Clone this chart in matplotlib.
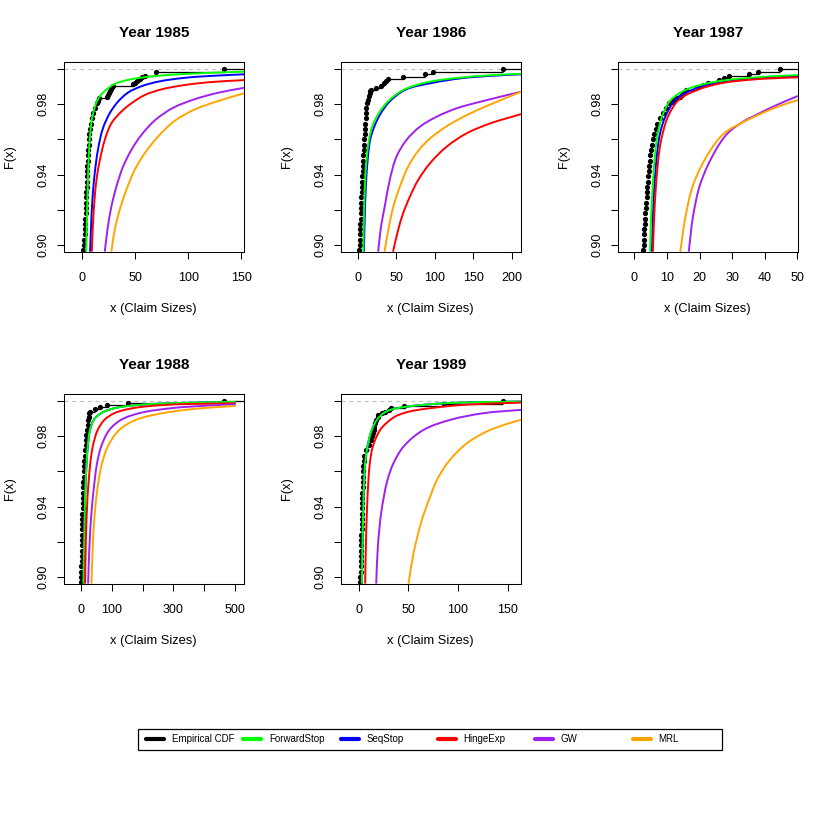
import matplotlib
matplotlib.use("Agg")
import numpy as np
import matplotlib.pyplot as plt
from matplotlib.lines import Line2D
from matplotlib.patches import Rectangle, PathPatch
from matplotlib.path import Path

plt.rcParams['font.family'] = ['Liberation Sans', 'DejaVu Sans']

# ---------------- data ----------------
years = [1985, 1986, 1987, 1988, 1989]
series_names = ["Empirical CDF", "ForwardStop", "SeqStop", "HingeExp", "GW", "MRL"]
series_colors = ["black", "#00FF00", "#0000FF", "#FF0000", "#A020F0", "#FFA500"]

y_ticks = [0.90, 0.92, 0.94, 0.96, 0.98, 1.00]
y_tick_labels = ["0.90", "", "0.94", "", "0.98", ""]
y_limits = (0.896, 1.004)

x_ticks_1985 = [0, 50, 100, 150]
x_ticks_1986 = [0, 50, 100, 150, 200]
x_ticks_1987 = [0, 10, 20, 30, 40, 50]
x_ticks_1988 = [0, 100, 200, 300, 400, 500]
x_ticks_1989 = [0, 50, 100, 150]
x_tick_labels_1985 = ["0", "50", "100", "150"]
x_tick_labels_1986 = ["0", "50", "100", "150", "200"]
x_tick_labels_1987 = ["0", "10", "20", "30", "40", "50"]
x_tick_labels_1988 = ["0", "100", "", "300", "", "500"]
x_tick_labels_1989 = ["0", "50", "100", "150"]
x_limits_1985 = (-17.2, 152.5)
x_limits_1986 = (-22.6, 211.7)
x_limits_1987 = (-5.15, 50.2)
x_limits_1988 = (-57.2, 529.0)
x_limits_1989 = (-18.1, 163.4)

# empirical CDF jump points
ecdf_x_1985 = [1.6, 2.2, 2.4, 2.6, 2.8, 3.1, 3.3, 3.5, 3.7, 3.9, 4.1, 4.3, 4.55, 4.75, 4.95,
               5.15, 5.35, 5.65, 5.95, 6.25, 6.55, 6.85, 7.15, 7.6, 8.2, 9.2, 10.8, 12.7,
               14.0, 15.3, 16.6, 23.4, 24.5, 25.5, 26.5, 27.5, 28.5, 29.7,
               48.4, 50.0, 51.5, 53.0, 55.0, 57.0, 59.4, 69.4, 134.0]
ecdf_F_1985 = [0.897, 0.900, 0.903, 0.906, 0.909, 0.912, 0.915, 0.918, 0.921, 0.924, 0.927,
               0.930, 0.933, 0.936, 0.939, 0.942, 0.945, 0.948, 0.951, 0.954, 0.957, 0.960,
               0.963, 0.966, 0.969, 0.972, 0.975, 0.978, 0.9805, 0.982, 0.9833, 0.9843,
               0.9854, 0.9866, 0.9877, 0.9888, 0.9898, 0.9905, 0.9915, 0.9922, 0.9930,
               0.9937, 0.9945, 0.9952, 0.9958, 0.9985, 1.0]
ecdf_x_1986 = [1.2, 2.2, 2.4, 2.6, 2.9, 3.1, 3.4, 3.7, 4.0, 4.3, 4.6, 4.85, 5.05, 5.3, 5.65,
               6.0, 6.35, 6.7, 7.05, 7.4, 7.8, 8.2, 8.65, 9.05, 9.45, 9.9, 10.3, 10.9,
               11.7, 13.0, 14.2, 15.2, 16.0, 16.5, 24.0, 30.4, 33.9, 36.5, 39.1, 58.7,
               87.0, 97.8, 188.0]
ecdf_F_1986 = [0.897, 0.900, 0.903, 0.906, 0.909, 0.912, 0.915, 0.918, 0.921, 0.924, 0.927,
               0.930, 0.933, 0.936, 0.939, 0.942, 0.945, 0.948, 0.951, 0.954, 0.957, 0.960,
               0.963, 0.966, 0.969, 0.972, 0.975, 0.978, 0.9805, 0.9824, 0.9845, 0.9862,
               0.9875, 0.9881, 0.989, 0.9905, 0.9919, 0.993, 0.9941, 0.9953, 0.997,
               0.9983, 1.0]
ecdf_x_1987 = [2.6, 2.9, 2.97, 3.05, 3.12, 3.2, 3.27, 3.38, 3.5, 3.62, 3.75, 3.87, 4.0, 4.12,
               4.25, 4.38, 4.52, 4.72, 4.93, 5.15, 5.5, 5.82, 6.17, 6.6, 7.1, 7.95, 8.7, 9.8,
               10.7, 11.5, 12.3, 13.1, 13.9, 14.6, 15.3, 16.0, 19.3, 21.1, 22.6, 26.0,
               27.5, 29.1, 35.3, 37.8, 44.8]
ecdf_F_1987 = [0.897, 0.900, 0.903, 0.906, 0.909, 0.912, 0.915, 0.918, 0.921, 0.924, 0.927,
               0.930, 0.933, 0.936, 0.939, 0.942, 0.945, 0.948, 0.951, 0.954, 0.957, 0.960,
               0.963, 0.966, 0.969, 0.972, 0.975, 0.978, 0.9805, 0.9814, 0.9825, 0.9833,
               0.9843, 0.9852, 0.9866, 0.9881, 0.990, 0.9909, 0.9919, 0.9938, 0.9951,
               0.996, 0.9972, 0.9985, 1.0]
ecdf_x_1988 = [0.5, 0.8, 1.0, 1.25, 1.5, 1.75, 2.0, 2.25, 2.55, 2.9, 3.2, 3.55, 3.9, 4.25,
               4.7, 5.2, 5.7, 6.3, 6.9, 7.4, 8.2, 9.0, 9.9, 10.8, 11.8, 13.0, 14.4, 15.8,
               17.0, 19.4, 21.5, 23.8, 25.3, 27.0, 29.0, 45.4, 62.6, 84.0, 151.0, 464.0]
ecdf_F_1988 = [0.897, 0.900, 0.903, 0.906, 0.909, 0.912, 0.915, 0.918, 0.921, 0.924, 0.927,
               0.930, 0.933, 0.936, 0.939, 0.942, 0.945, 0.948, 0.951, 0.954, 0.957, 0.960,
               0.963, 0.966, 0.969, 0.972, 0.975, 0.978, 0.9805, 0.9836, 0.9865, 0.9893,
               0.9912, 0.9931, 0.994, 0.9953, 0.9968, 0.9978, 0.9991, 1.0]
ecdf_x_1989 = [1.7, 1.9, 2.05, 2.2, 2.3, 2.45, 2.6, 2.72, 2.83, 2.94, 3.05, 3.16, 3.27, 3.38,
               3.52, 3.67, 3.82, 3.97, 4.12, 4.3, 4.5, 4.7, 4.9, 5.3, 6.0, 7.5, 10.5, 12.4,
               13.4, 14.4, 15.1, 16.0, 16.9, 17.8, 19.2, 20.1, 23.5, 27.0, 30.2, 32.6,
               45.3, 85.6, 145.3]
ecdf_F_1989 = [0.897, 0.900, 0.903, 0.906, 0.909, 0.912, 0.915, 0.918, 0.921, 0.924, 0.927,
               0.930, 0.933, 0.936, 0.939, 0.942, 0.945, 0.948, 0.951, 0.954, 0.957, 0.960,
               0.963, 0.966, 0.969, 0.972, 0.975, 0.978, 0.980, 0.982, 0.9836, 0.9855,
               0.9875, 0.9893, 0.991, 0.9921, 0.9931, 0.994, 0.995, 0.9959, 0.9972,
               0.9983, 1.0]

# fitted CDF curves
fs_x_1985 = [4.1, 4.9, 5.7, 6.7, 7.8, 10.0, 14.5, 20.0, 30.9, 43.4, 65.3, 96.6, 152.5]
fs_F_1985 = [0.8962, 0.9161, 0.9350, 0.9520, 0.9625, 0.9730, 0.9820, 0.9866, 0.9915, 0.9938, 0.9958, 0.9972, 0.9985]
ss_x_1985 = [7.8, 9.0, 10.5, 12.2, 15.3, 20.0, 26.2, 34.1, 43.4, 56.0, 71.6, 96.6, 127.8, 152.5]
ss_F_1985 = [0.8962, 0.9150, 0.9300, 0.9410, 0.9545, 0.9665, 0.9748, 0.9815, 0.9866, 0.9902, 0.9928, 0.9950, 0.9963, 0.9970]
he_x_1985 = [9.4, 10.5, 12.0, 14.0, 16.9, 21.6, 27.8, 37.2, 46.6, 59.1, 74.7, 96.6, 121.6, 152.5]
he_F_1985 = [0.8962, 0.9120, 0.9260, 0.9380, 0.9480, 0.9597, 0.9691, 0.9758, 0.9805, 0.9852, 0.9884, 0.9909, 0.9926, 0.9937]
gw_x_1985 = [21.6, 24.1, 27.8, 32.5, 38.8, 46.6, 56.0, 69.0, 86.0, 106.0, 128.0, 152.5]
gw_F_1985 = [0.8962, 0.9085, 0.9218, 0.9331, 0.9445, 0.9540, 0.9625, 0.9710, 0.9780, 0.9828, 0.9865, 0.9893]
mrl_x_1985 = [27.8, 30.9, 35.6, 41.9, 49.7, 59.1, 71.6, 87.2, 106.0, 128.0, 152.5]
mrl_F_1985 = [0.8962, 0.9085, 0.9199, 0.9313, 0.9426, 0.9521, 0.9615, 0.9705, 0.9770, 0.9818, 0.9862]

fs_x_1986 = [7.0, 7.8, 9.2, 11.5, 14.5, 19.0, 28.3, 40.0, 59.0, 90.0, 130.0, 170.0, 212.0]
fs_F_1986 = [0.8962, 0.9161, 0.9350, 0.9500, 0.9600, 0.9680, 0.9757, 0.9820, 0.9881, 0.9925, 0.9950, 0.9964, 0.9973]
ss_x_1986 = [7.8, 8.9, 10.5, 13.0, 16.0, 21.0, 28.3, 40.0, 61.0, 95.0, 135.0, 175.0, 212.0]
ss_F_1986 = [0.8962, 0.9161, 0.9350, 0.9500, 0.9600, 0.9670, 0.9738, 0.9810, 0.9881, 0.9920, 0.9948, 0.9962, 0.9970]
he_x_1986 = [45.6, 52.2, 58.7, 67.4, 78.2, 93.5, 115.3, 141.3, 171.7, 212.0]
he_F_1986 = [0.8962, 0.9085, 0.9180, 0.9274, 0.9369, 0.9464, 0.9559, 0.9635, 0.9691, 0.9744]
gw_x_1986 = [26.3, 28.3, 30.4, 34.8, 41.3, 50.1, 63.1, 80.4, 102.2, 128.3, 158.7, 212.0]
gw_F_1986 = [0.8962, 0.9045, 0.9115, 0.9218, 0.9369, 0.9502, 0.9597, 0.9672, 0.9729, 0.9777, 0.9814, 0.9871]
mrl_x_1986 = [34.5, 39.5, 46.0, 54.4, 65.2, 78.2, 93.5, 115.3, 141.3, 170.0, 212.0]
mrl_F_1986 = [0.8962, 0.9085, 0.9218, 0.9331, 0.9445, 0.9535, 0.9605, 0.9675, 0.9738, 0.9795, 0.9871]

fs_x_1987 = [4.85, 5.15, 5.7, 6.5, 7.2, 8.5, 11.2, 15.7, 22.4, 28.6, 39.9, 50.2]
fs_F_1987 = [0.8962, 0.9161, 0.9350, 0.9540, 0.9634, 0.9729, 0.9824, 0.9881, 0.9919, 0.9938, 0.9956, 0.9966]
ss_x_1987 = [5.4, 5.7, 6.2, 7.1, 7.9, 9.5, 12.6, 17.7, 25.0, 32.0, 41.0, 50.2]
ss_F_1987 = [0.8962, 0.9161, 0.9350, 0.9540, 0.9634, 0.9729, 0.9824, 0.9881, 0.9919, 0.9938, 0.9951, 0.9960]
he_x_1987 = [5.7, 6.1, 6.7, 7.7, 8.7, 10.3, 13.6, 19.3, 26.5, 34.7, 42.0, 50.2]
he_F_1987 = [0.8962, 0.9161, 0.9350, 0.9540, 0.9634, 0.9729, 0.9824, 0.9881, 0.9919, 0.9938, 0.9947, 0.9953]
gw_x_1987 = [16.7, 18.0, 20.3, 25.0, 28.6, 34.2, 36.3, 42.5, 50.2]
gw_F_1987 = [0.8962, 0.9161, 0.9350, 0.9540, 0.9634, 0.9710, 0.9729, 0.9786, 0.9847]
mrl_x_1987 = [14.1, 15.7, 18.2, 23.4, 27.5, 33.7, 36.8, 44.0, 50.2]
mrl_F_1987 = [0.8962, 0.9161, 0.9350, 0.9540, 0.9634, 0.9701, 0.9729, 0.9786, 0.9824]

fs_x_1988 = [7.6, 9.7, 11.9, 15.0, 21.6, 29.0, 41.0, 65.0, 108.0, 189.0, 300.0, 502.0]
fs_F_1988 = [0.8962, 0.9174, 0.9363, 0.9552, 0.9741, 0.9836, 0.9893, 0.9931, 0.9959, 0.9978, 0.9988, 0.9995]
ss_x_1988 = [7.6, 9.7, 11.9, 15.0, 21.6, 29.0, 41.0, 65.0, 108.0, 189.0, 300.0, 502.0]
ss_F_1988 = [0.8962, 0.9174, 0.9363, 0.9552, 0.9741, 0.9836, 0.9893, 0.9931, 0.9959, 0.9978, 0.9988, 0.9995]
he_x_1988 = [13.0, 15.0, 18.4, 24.8, 37.8, 54.0, 75.6, 108.0, 167.0, 275.0, 502.0]
he_F_1988 = [0.8962, 0.9174, 0.9363, 0.9552, 0.9741, 0.9836, 0.9893, 0.9931, 0.9959, 0.9978, 0.9987]
gw_x_1988 = [22.7, 27.0, 33.5, 44.3, 51.8, 65.0, 91.8, 129.6, 189.0, 297.0, 400.0, 502.0]
gw_F_1988 = [0.8962, 0.9174, 0.9363, 0.9552, 0.9647, 0.9741, 0.9836, 0.9893, 0.9931, 0.9960, 0.9973, 0.9982]
mrl_x_1988 = [33.5, 37.8, 44.3, 57.2, 68.0, 86.4, 124.0, 178.0, 264.6, 340.0, 420.0, 502.0]
mrl_F_1988 = [0.8962, 0.9174, 0.9363, 0.9552, 0.9647, 0.9741, 0.9836, 0.9893, 0.9931, 0.9950, 0.9963, 0.9972]

fs_x_1989 = [3.4, 4.0, 4.7, 5.7, 6.7, 9.0, 13.4, 18.5, 25.2, 31.9, 48.7, 85.6, 163.4]
fs_F_1989 = [0.8962, 0.9174, 0.9363, 0.9552, 0.9647, 0.9741, 0.9836, 0.9893, 0.9931, 0.9950, 0.9968, 0.9987, 0.9997]
ss_x_1989 = [3.4, 4.0, 4.7, 5.7, 6.7, 9.0, 13.4, 18.5, 25.2, 31.9, 48.7, 85.6, 163.4]
ss_F_1989 = [0.8962, 0.9174, 0.9363, 0.9552, 0.9647, 0.9741, 0.9836, 0.9893, 0.9931, 0.9950, 0.9968, 0.9987, 0.9997]
he_x_1989 = [6.7, 7.4, 8.4, 10.0, 11.4, 14.4, 21.8, 27.9, 36.9, 45.3, 55.0, 72.0, 95.6, 122.0, 163.4]
he_F_1989 = [0.8962, 0.9174, 0.9363, 0.9552, 0.9647, 0.9741, 0.9836, 0.9874, 0.9912, 0.9931, 0.9945, 0.9959, 0.9974, 0.9983, 0.9991]
gw_x_1989 = [17.8, 19.5, 22.8, 29.2, 35.2, 45.3, 65.4, 92.3, 125.8, 163.4]
gw_F_1989 = [0.8962, 0.9174, 0.9363, 0.9552, 0.9647, 0.9741, 0.9836, 0.9893, 0.9931, 0.9950]
mrl_x_1989 = [50.3, 55.4, 63.8, 72.1, 78.9, 90.6, 109.0, 129.0, 149.3, 163.4]
mrl_F_1989 = [0.8962, 0.9136, 0.9325, 0.9458, 0.9552, 0.9656, 0.9760, 0.9827, 0.9870, 0.9893]

panels = {
    1985: dict(ecdf=(ecdf_x_1985, ecdf_F_1985), fs=(fs_x_1985, fs_F_1985), ss=(ss_x_1985, ss_F_1985),
               he=(he_x_1985, he_F_1985), gw=(gw_x_1985, gw_F_1985), mrl=(mrl_x_1985, mrl_F_1985),
               xt=x_ticks_1985, xtl=x_tick_labels_1985, xl=x_limits_1985),
    1986: dict(ecdf=(ecdf_x_1986, ecdf_F_1986), fs=(fs_x_1986, fs_F_1986), ss=(ss_x_1986, ss_F_1986),
               he=(he_x_1986, he_F_1986), gw=(gw_x_1986, gw_F_1986), mrl=(mrl_x_1986, mrl_F_1986),
               xt=x_ticks_1986, xtl=x_tick_labels_1986, xl=x_limits_1986),
    1987: dict(ecdf=(ecdf_x_1987, ecdf_F_1987), fs=(fs_x_1987, fs_F_1987), ss=(ss_x_1987, ss_F_1987),
               he=(he_x_1987, he_F_1987), gw=(gw_x_1987, gw_F_1987), mrl=(mrl_x_1987, mrl_F_1987),
               xt=x_ticks_1987, xtl=x_tick_labels_1987, xl=x_limits_1987),
    1988: dict(ecdf=(ecdf_x_1988, ecdf_F_1988), fs=(fs_x_1988, fs_F_1988), ss=(ss_x_1988, ss_F_1988),
               he=(he_x_1988, he_F_1988), gw=(gw_x_1988, gw_F_1988), mrl=(mrl_x_1988, mrl_F_1988),
               xt=x_ticks_1988, xtl=x_tick_labels_1988, xl=x_limits_1988),
    1989: dict(ecdf=(ecdf_x_1989, ecdf_F_1989), fs=(fs_x_1989, fs_F_1989), ss=(ss_x_1989, ss_F_1989),
               he=(he_x_1989, he_F_1989), gw=(gw_x_1989, gw_F_1989), mrl=(mrl_x_1989, mrl_F_1989),
               xt=x_ticks_1989, xtl=x_tick_labels_1989, xl=x_limits_1989),
}


def smooth_curve(ax, xs, ys, **kw):
    """Draw a smooth (cubic Bezier) curve passing through the given data points."""
    pts = ax.transData.transform(np.column_stack([xs, ys]))
    n = len(pts)
    tang = np.zeros_like(pts)
    for i in range(n):
        if i == 0:
            d = pts[1] - pts[0]
        elif i == n - 1:
            d = pts[-1] - pts[-2]
        else:
            d = (pts[i + 1] - pts[i]) / max(np.linalg.norm(pts[i + 1] - pts[i]), 1e-9) + \
                (pts[i] - pts[i - 1]) / max(np.linalg.norm(pts[i] - pts[i - 1]), 1e-9)
        tang[i] = d / max(np.linalg.norm(d), 1e-9)
    verts = [pts[0]]
    codes = [Path.MOVETO]
    for i in range(n - 1):
        L = np.linalg.norm(pts[i + 1] - pts[i])
        verts += [pts[i] + tang[i] * L / 3.0, pts[i + 1] - tang[i + 1] * L / 3.0, pts[i + 1]]
        codes += [Path.CURVE4] * 3
    dverts = ax.transData.inverted().transform(np.array(verts))
    patch = PathPatch(Path(dverts, codes), fill=False, transform=ax.transData, **kw)
    ax.add_patch(patch)
    return patch


# ---------------- layout ----------------
W = H = 830.0
fig = plt.figure(figsize=(8.3, 8.3), dpi=100)
col_left_px = [63.5, 340.5, 617.5]
row_top_px = [62.0, 394.0]
ax_w_px, ax_h_px = 180.5, 190.0

BLACK, GREEN, BLUE, RED, PURPLE, ORANGE = series_colors

for i, yr in enumerate(years):
    r, c = divmod(i, 3)
    l = col_left_px[c] / W
    b = 1 - (row_top_px[r] + ax_h_px) / H
    ax = fig.add_axes([l, b, ax_w_px / W, ax_h_px / H])
    p = panels[yr]
    ax.set_xlim(*p['xl'])
    ax.set_ylim(*y_limits)

    ax.axhline(1.0, color="#BEBEBE", lw=0.8, ls=(0, (3.5, 3.5)), zorder=1)

    ex, eF = p['ecdf']
    ax.hlines(eF[:-1], ex[:-1], ex[1:], color=BLACK, lw=0.9, zorder=2)
    ax.hlines(eF[-1], ex[-1], p['xl'][1], color=BLACK, lw=0.9, zorder=2)
    ax.plot(ex, eF, 'o', color=BLACK, ms=3.8, mew=0, zorder=2)

    for key, col in [('ss', BLUE), ('fs', GREEN), ('he', RED), ('gw', PURPLE), ('mrl', ORANGE)]:
        cx, cF = p[key]
        smooth_curve(ax, cx, cF, edgecolor=col, lw=1.4, zorder=3, joinstyle='round', capstyle='butt')

    ax.set_xticks(p['xt'])
    ax.set_xticklabels(p['xtl'])
    ax.set_yticks(y_ticks)
    ax.set_yticklabels(y_tick_labels, rotation=90, va='center')
    ax.tick_params(axis='both', direction='out', length=4.8, width=0.75, labelsize=9)
    ax.tick_params(axis='x', pad=9.5)
    ax.tick_params(axis='y', pad=5.0)
    for s in ax.spines.values():
        s.set_linewidth(0.75)

    ax.set_xlabel("x (Claim Sizes)", fontsize=9.3)
    ax.xaxis.label.set_va('center')
    ax.xaxis.set_label_coords(0.5, -0.300)
    ax.set_ylabel("F(x)", fontsize=9.3)
    ax.yaxis.label.set_va('center')
    ax.yaxis.set_label_coords(-0.296, 0.5)

    ax.text(0.5, 1.130, f"Year {yr}", transform=ax.transAxes, ha='center', va='baseline',
            fontsize=11, fontweight='bold')

# ---------------- legend ----------------
def fx(px):
    return px / W


def fy(py):
    return 1 - py / H


fig.add_artist(Rectangle((fx(138.3), fy(750.0)), fx(722.0) - fx(138.3), (750.0 - 728.5) / H,
                         transform=fig.transFigure, fill=False, edgecolor='black', lw=0.9))
leg_y = 739.3
for k, (name, col) in enumerate(zip(series_names, series_colors)):
    x0 = 146.0 + 97.3 * k
    fig.add_artist(Line2D([fx(x0), fx(x0 + 18)], [fy(leg_y), fy(leg_y)], transform=fig.transFigure,
                          color=col, lw=3.0, solid_capstyle='round'))
    fig.text(fx(x0 + 25.7), fy(leg_y), name, fontsize=7, ha='left', va='center')

fig.savefig("out.png", dpi=100)
